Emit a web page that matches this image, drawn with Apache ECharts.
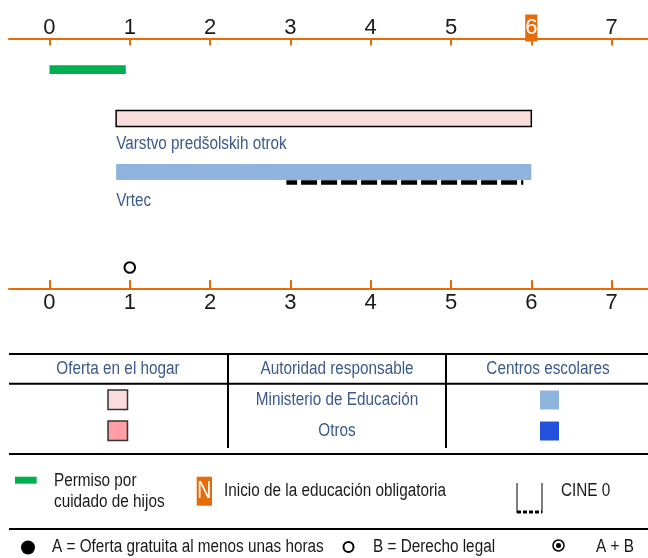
<!DOCTYPE html>
<html>
<head>
<meta charset="utf-8">
<script src="https://cdn.jsdelivr.net/npm/echarts@6/dist/echarts.min.js"></script>
<style>
  html, body { margin: 0; padding: 0; background: #fff; }
  #chart { width: 648px; height: 558px; }
</style>
</head>
<body>
<div id="chart"></div>
<script>
// ages on the axis
const ages = [0, 1, 2, 3, 4, 5, 6, 7];
const compulsoryAge = 6;
// childcare leave
const leaveSpan = [0, 0.95];
// programmes (home-based, then centre-based)
const programmeNames = ['Varstvo predšolskih otrok', 'Vrtec'];
const programmeFrom = [0.83, 0.83];
const programmeTo = [6, 6];
// ISCED 0 range
const cine0Span = [2.95, 5.9];
// legal entitlement
const legalRightAges = [1];

// legend table
const tableHeaders = ['Oferta en el hogar', 'Autoridad responsable', 'Centros escolares'];
const authorities = ['Ministerio de Educación', 'Otros'];
const homeColors = ['#fadcdc', '#ff9ea4'];
const schoolColors = ['#8eb4de', '#2352dc'];

const ORANGE = '#e46c0a';
const GREEN = '#00b050';
const NAVY = '#3b5a8c';
const FONT = '"Liberation Sans", Arial, sans-serif';
const NARROW = 0.85; // squeeze text to look like a narrow face
const TEXT_SIZE = 18;

// row layout (pixels below the top axis)
const ROW_LEAVE = 30.5;
const ROW_PROG = [79.5, 133];
const ROW_PROG_LABEL = [105.5, 162];
const ROW_CINE = 143.5;
const ROW_RIGHT = 228.5;
const progFill = ['#f9dddd', '#8eb4de'];
const progStroke = ['#000', null];

const chart = echarts.init(document.getElementById('chart'));

const digitRich = {
  n: { color: '#1a1a1a', fontSize: 22, lineHeight: 22, padding: [2, 0, 3, 0], fontFamily: FONT },
  hl: { color: '#fff', backgroundColor: ORANGE, fontSize: 22, lineHeight: 22, padding: [2, 0, 3, 0], fontFamily: FONT }
};

function ageAxis(pos) {
  const top = pos === 'top';
  return {
    type: 'value',
    position: pos,
    min: -0.504,
    max: 7.453,
    splitLine: { show: false },
    axisLine: { show: true, onZero: false, lineStyle: { color: ORANGE, width: 2 } },
    axisTick: { show: true, inside: true, length: top ? 6.5 : 9, customValues: ages, lineStyle: { color: ORANGE, width: 2 } },
    axisLabel: {
      customValues: ages,
      margin: top ? 0 : 3,
      formatter: v => (top && v === compulsoryAge) ? '{hl|' + v + '}' : '{n|' + v + '}',
      rich: digitRich
    }
  };
}

// table + legend drawn as graphics
const g = [];
function hline(x1, x2, y, w) { g.push({ type: 'line', shape: { x1, y1: y, x2, y2: y }, style: { stroke: '#000', lineWidth: w || 2 } }); }
function vline(x, y1, y2, w) { g.push({ type: 'line', shape: { x1: x, y1, x2: x, y2 }, style: { stroke: '#000', lineWidth: w || 2 } }); }
function txt(x, y, text, opts) {
  g.push({ type: 'text', x, y, scaleX: NARROW, style: Object.assign({ text, fill: '#1a1a1a', fontSize: TEXT_SIZE, fontFamily: FONT, align: 'left', verticalAlign: 'middle' }, opts || {}) });
}

hline(9, 648, 354);
hline(9, 648, 383.7);
hline(9, 648, 454);
vline(228, 354, 448);
vline(446, 354, 448);
const colCenters = [118, 337, 548];
tableHeaders.forEach((h, i) => txt(colCenters[i], 369, h, { fill: NAVY, align: 'center' }));
const rowCenters = [400, 431];
authorities.forEach((a, i) => {
  txt(colCenters[1], rowCenters[i], a, { fill: NAVY, align: 'center' });
  g.push({ type: 'rect', shape: { x: 108, y: rowCenters[i] - 10, width: 19.5, height: 19.5 }, style: { fill: homeColors[i], stroke: '#333', lineWidth: 1.5 } });
  g.push({ type: 'rect', shape: { x: 540, y: rowCenters[i] - 9.5, width: 19, height: 19 }, style: { fill: schoolColors[i] } });
});

// key row
g.push({ type: 'rect', shape: { x: 15, y: 476.7, width: 21.7, height: 7 }, style: { fill: GREEN } });
txt(54, 481, 'Permiso por');
txt(54, 502, 'cuidado de hijos');
g.push({ type: 'rect', shape: { x: 196.7, y: 476.7, width: 15.3, height: 29 }, style: { fill: ORANGE } });
txt(204.4, 492, 'N', { fill: '#fff', fontSize: 23, align: 'center' });
txt(224, 491, 'Inicio de la educación obligatoria');
vline(517, 483, 513, 1);
vline(542, 483, 513, 1);
g.push({ type: 'line', shape: { x1: 517, y1: 512, x2: 542, y2: 512 }, style: { stroke: '#000', lineWidth: 3, lineDash: [4, 2] } });
txt(561, 491, 'CINE 0');

hline(9, 648, 529);
g.push({ type: 'circle', shape: { cx: 28, cy: 547.5, r: 7 }, style: { fill: '#000' } });
txt(52, 547.5, 'A = Oferta gratuita al menos unas horas');
g.push({ type: 'circle', shape: { cx: 348.5, cy: 547, r: 5 }, style: { fill: '#fff', stroke: '#000', lineWidth: 2 } });
txt(373, 547.5, 'B = Derecho legal');
g.push({ type: 'circle', shape: { cx: 558.5, cy: 545.5, r: 5.5 }, style: { fill: '#fff', stroke: '#000', lineWidth: 1.5 } });
g.push({ type: 'circle', shape: { cx: 558.5, cy: 545.5, r: 2.5 }, style: { fill: '#000' } });
txt(596, 547.5, 'A + B');

const option = {
  animation: false,
  grid: { left: 9, right: 0, top: 39, bottom: 269, outerBoundsMode: 'none' },
  xAxis: [ageAxis('top'), ageAxis('bottom')],
  yAxis: { type: 'value', inverse: true, min: 0, max: 250, show: false },
  graphic: g,
  series: [
    {
      name: 'Permiso por cuidado de hijos',
      type: 'custom',
      data: [leaveSpan],
      renderItem: (params, api) => {
        const a = api.coord([api.value(0), ROW_LEAVE]);
        const b = api.coord([api.value(1), ROW_LEAVE]);
        return { type: 'rect', shape: { x: a[0], y: a[1] - 4.3, width: b[0] - a[0], height: 8.7 }, style: { fill: GREEN } };
      }
    },
    {
      name: 'Programas',
      type: 'custom',
      data: programmeNames.map((n, i) => [programmeFrom[i], programmeTo[i], i]),
      renderItem: (params, api) => {
        const i = api.value(2);
        const a = api.coord([api.value(0), ROW_PROG[i]]);
        const b = api.coord([api.value(1), ROW_PROG[i]]);
        const l = api.coord([api.value(0), ROW_PROG_LABEL[i]]);
        const st = progStroke[i] ? { fill: progFill[i], stroke: progStroke[i], lineWidth: 1.5 } : { fill: progFill[i] };
        return {
          type: 'group',
          children: [
            { type: 'rect', shape: { x: a[0], y: a[1] - 8, width: b[0] - a[0], height: 16 }, style: st },
            { type: 'text', x: l[0], y: l[1], scaleX: NARROW, style: { text: programmeNames[i], fill: NAVY, fontSize: TEXT_SIZE, fontFamily: FONT, align: 'left', verticalAlign: 'middle' } }
          ]
        };
      }
    },
    {
      name: 'CINE 0',
      type: 'custom',
      data: [cine0Span],
      z: 3,
      renderItem: (params, api) => {
        const a = api.coord([api.value(0), ROW_CINE]);
        const b = api.coord([api.value(1), ROW_CINE]);
        return { type: 'line', shape: { x1: a[0], y1: a[1], x2: b[0], y2: b[1] }, style: { stroke: '#000', lineWidth: 4.3, lineDash: [16, 4], lineDashOffset: 5.3 } };
      }
    },
    {
      name: 'Derecho legal',
      type: 'custom',
      data: legalRightAges.map(a => [a]),
      renderItem: (params, api) => {
        const c = api.coord([api.value(0), ROW_RIGHT]);
        return { type: 'circle', shape: { cx: c[0], cy: c[1], r: 5.3 }, style: { fill: '#fff', stroke: '#000', lineWidth: 2 } };
      }
    }
  ]
};

chart.setOption(option);
</script>
</body>
</html>
